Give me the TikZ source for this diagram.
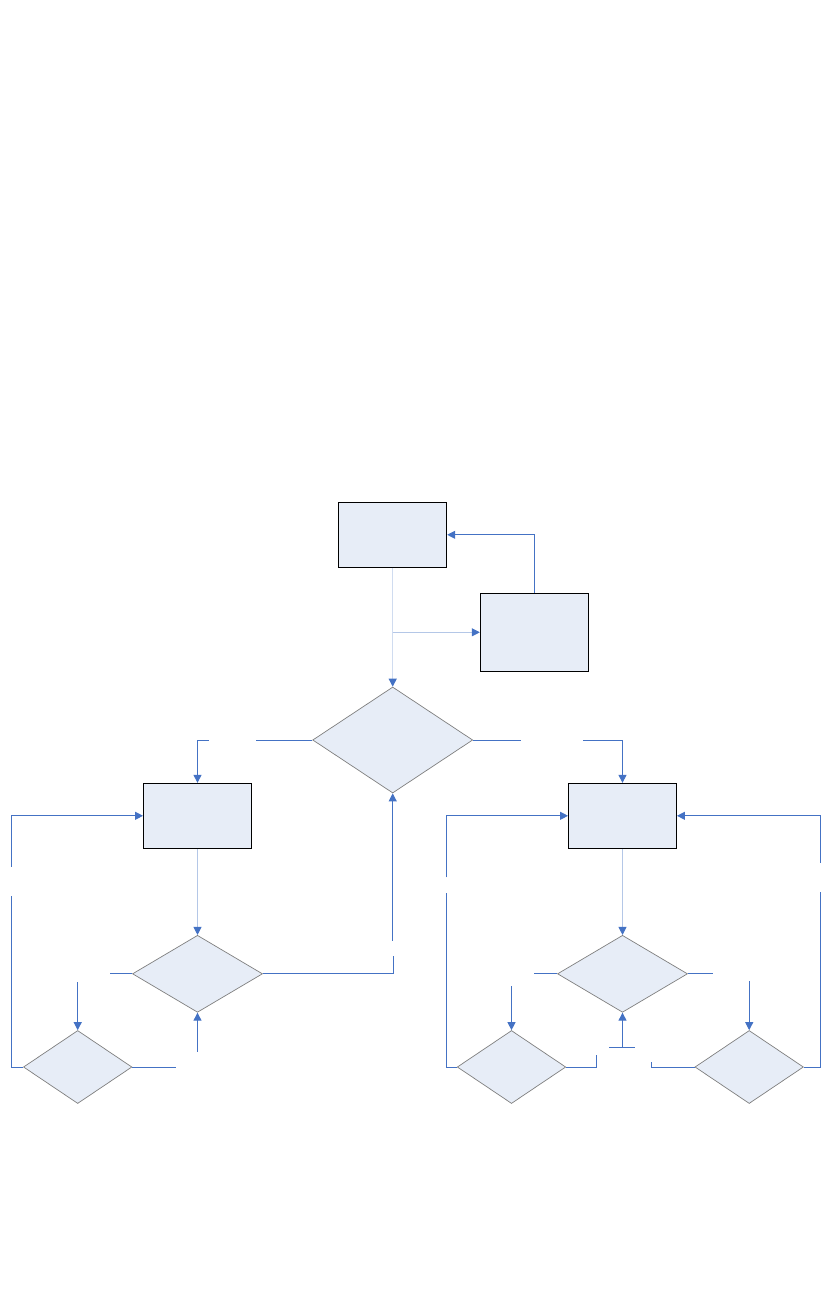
\documentclass[tikz,border=0pt]{standalone}
\usetikzlibrary{arrows.meta,shapes.geometric}
\definecolor{dkblue}{HTML}{4472C4}
\definecolor{ltblue}{HTML}{B4C7E7}
\definecolor{vltblue}{HTML}{D0DCF0}
\definecolor{boxfill}{HTML}{E7EDF7}
\definecolor{dgray}{HTML}{7F7F7F}
\tikzset{
  tip/.style={-{Triangle[length=8bp,width=8bp,color=dkblue]}},
  dk/.style={draw=dkblue,line width=1bp},
  lt/.style={draw=ltblue,line width=1bp},
  vlt/.style={draw=vltblue,line width=1.2bp},
  procbox/.style={draw=black,line width=0.9bp,fill=boxfill,rectangle,inner sep=0pt,minimum width=108bp,minimum height=65bp},
  decision/.style={draw=dgray,line width=0.7bp,fill=boxfill,diamond,inner sep=0pt},
}
\begin{document}
\begin{tikzpicture}[x=1bp,y=-1bp]
\useasboundingbox (0,0) rectangle (830,1308);
% nodes
\node[procbox] (A) at (392.7,534.8) {};
\node[procbox,minimum height=78bp] (B) at (534.3,632.3) {};
\node[decision,minimum width=160bp,minimum height=106bp,aspect=1.51] (D) at (392.7,740) {};
\node[procbox] (C) at (197.5,815.8) {};
\node[procbox] (E) at (622.5,815.8) {};
\node[decision,minimum width=130bp,minimum height=77bp,aspect=1.69] (I) at (197.5,973.8) {};
\node[decision,minimum width=130bp,minimum height=77bp,aspect=1.69] (G) at (622.5,973.8) {};
\node[decision,minimum width=108.5bp,minimum height=73bp,aspect=1.49] (J) at (77.7,1067) {};
\node[decision,minimum width=108.5bp,minimum height=73bp,aspect=1.49] (F) at (511.5,1067) {};
\node[decision,minimum width=108.5bp,minimum height=73bp,aspect=1.49] (H) at (749.2,1067) {};
% coordinates
\coordinate (br) at (A.south |- B.west);
\coordinate (dl1) at (256,740);
\coordinate (dl2) at (208.7,740);
\coordinate (dr1) at (520.7,740);
\coordinate (dr2) at (583,740);
\coordinate (ir1) at (393.7,973.8);
\coordinate (ir2) at (393.7,956);
\coordinate (ir3) at (D.south |- 0,940.7);
\coordinate (il) at (110,973.8);
\coordinate (ib) at (I.south |- 0,1051.7);
\coordinate (jt) at (J.north |- 0,982);
\coordinate (jr) at (175.7,1067);
\coordinate (jl1) at (11.3,1067);
\coordinate (jl2) at (11.3,896);
\coordinate (jl3) at (11.3,866.7);
\coordinate (gl) at (534,973.8);
\coordinate (gr) at (712.7,973.8);
\coordinate (gb) at (G.south |- 0,1047.3);
\coordinate (tb1) at (609,1047.3);
\coordinate (tb2) at (634.7,1047.3);
\coordinate (ft) at (F.north |- 0,986);
\coordinate (fr1) at (596.3,1067);
\coordinate (fr2) at (596.3,1055);
\coordinate (hl1) at (651.3,1067);
\coordinate (hl2) at (651.3,1062.3);
\coordinate (ht) at (H.north |- 0,981);
\coordinate (fl1) at (446.3,1067);
\coordinate (fl2) at (446.3,893.3);
\coordinate (fl3) at (446.3,877.3);
\coordinate (hr1) at (820.7,1067);
\coordinate (hr2) at (820.7,892);
\coordinate (hr3) at (820.7,862.7);
% connectors
\draw[dk,tip] (B.north) |- (A.east);
\draw[vlt,tip] (A.south) -- (D.north);
\draw[lt,tip] (br) -- (B.west);
\draw[dk] (D.west) -- (dl1);
\draw[dk,tip] (dl2) -| (C.north);
\draw[dk] (D.east) -- (dr1);
\draw[dk,tip] (dr2) -| (E.north);
\draw[dk] (I.east) -- (ir1) -- (ir2);
\draw[dk,tip] (ir3) -- (D.south);
\draw[lt,tip] (C.south) -- (I.north);
\draw[dk] (I.west) -- (il);
\draw[dk,tip] (ib) -- (I.south);
\draw[dk,tip] (jt) -- (J.north);
\draw[dk] (J.east) -- (jr);
\draw[dk] (J.west) -- (jl1) -- (jl2);
\draw[dk,tip] (jl3) |- (C.west);
\draw[lt,tip] (E.south) -- (G.north);
\draw[dk] (G.west) -- (gl);
\draw[dk] (G.east) -- (gr);
\draw[dk,tip] (gb) -- (G.south);
\draw[dk] (tb1) -- (tb2);
\draw[dk,tip] (ft) -- (F.north);
\draw[dk] (F.east) -- (fr1) -- (fr2);
\draw[dk] (H.west) -- (hl1) -- (hl2);
\draw[dk,tip] (ht) -- (H.north);
\draw[dk] (F.west) -- (fl1) -- (fl2);
\draw[dk,tip] (fl3) |- (E.west);
\draw[dk] (H.east) -- (hr1) -- (hr2);
\draw[dk,tip] (hr3) |- (E.east);
\end{tikzpicture}
\end{document}
